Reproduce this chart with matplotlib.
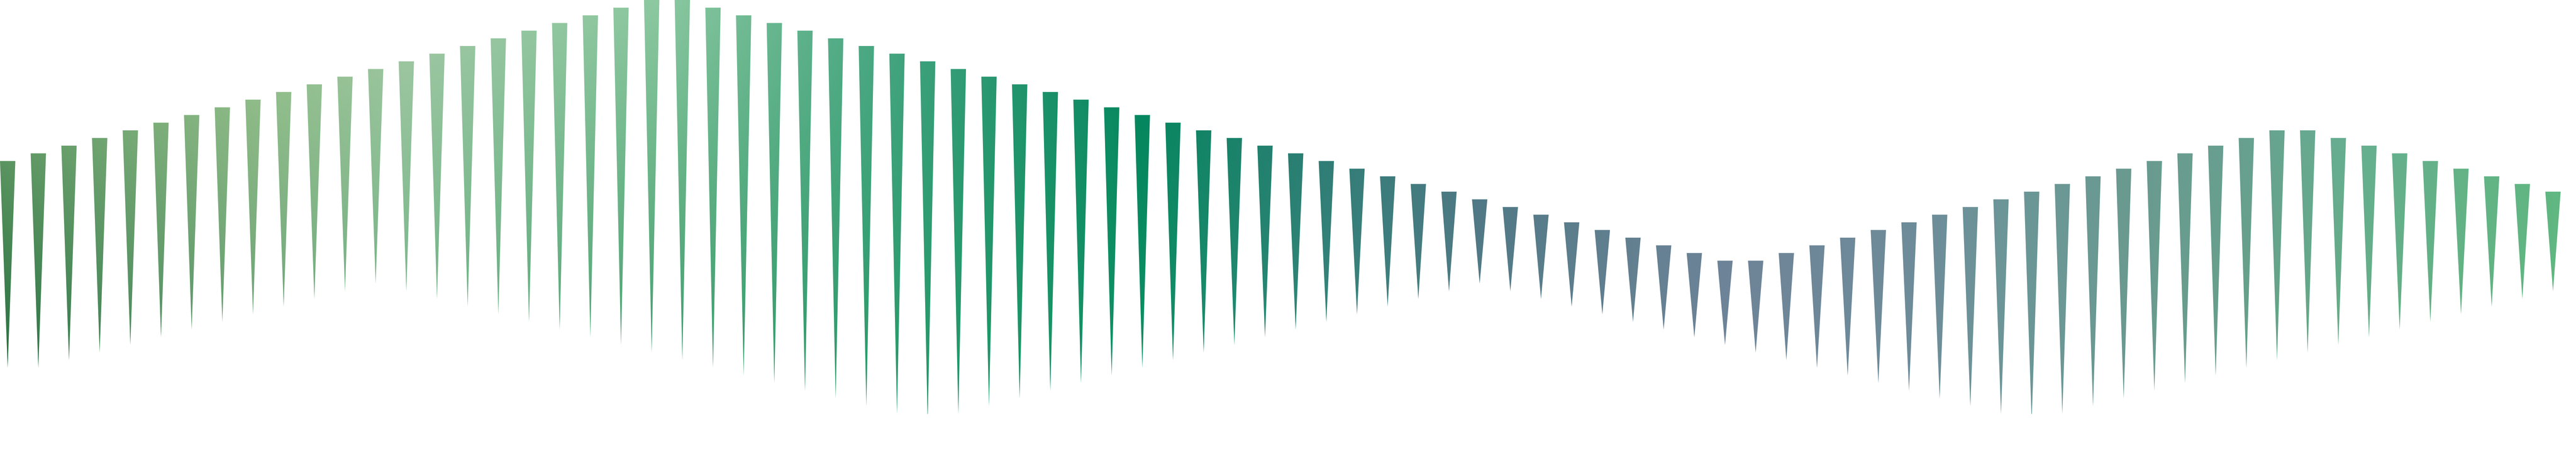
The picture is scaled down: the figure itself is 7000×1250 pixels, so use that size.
import numpy as np
import matplotlib; matplotlib.use("Agg"); import matplotlib.pyplot as plt
from matplotlib.path import Path
from matplotlib.patches import PathPatch
from matplotlib.colors import to_rgb

# one downward spike per slot: flat top edge at `tops`, point at `tips`
tops = [39, 40, 41, 42, 43, 44, 45, 46, 47, 48, 49, 50, 51, 52, 53, 54, 55, 56, 57, 58, 59, 60,
        60, 59, 58, 57, 56, 55, 54, 53, 52, 51, 50, 49, 48, 47, 46, 45, 44, 43, 42, 41, 40, 39,
        38, 37, 36, 35, 34, 33, 32, 31, 30, 29, 28, 27, 26,
        26, 27, 28, 29, 30, 31, 32, 33, 34, 35, 36, 37, 38, 39, 40, 41, 42, 43,
        43, 42, 41, 40, 39, 38, 37, 36, 35]
tips = [12, 12, 13, 14, 15, 16, 17, 18, 19, 20, 21, 22, 23,
        22, 21, 20, 19, 18, 17, 16, 15, 14, 13, 12, 11, 10, 9, 8, 7, 6,
        5,
        6, 7, 8, 9, 10, 11, 12, 13, 14, 15, 16, 17, 18, 19, 20, 21, 22, 23,
        22, 21, 20, 19, 18, 17, 16, 15, 14, 13, 12, 11, 10, 9, 8, 7, 6,
        5,
        6, 7, 8, 9, 10, 11, 12, 13, 14, 15, 16, 17, 18, 19, 20, 21, 22]

# fill gradient: colour stops along x (fraction of width), upper row / lower row
STOP_X = [0.0, 0.0986, 0.157, 0.257, 0.343, 0.443, 0.514, 0.571, 0.671, 0.743, 0.779, 0.829, 0.871, 0.914, 1.0]
STOP_HI = ["#70a46e", "#93bf8a", "#9ac59f", "#7dc096", "#44a57f", "#04855d", "#2e7a74", "#4d7884",
           "#6e8498", "#6e8c9a", "#6c9698", "#6a9a90", "#68a092", "#68b094", "#60b880"]
STOP_LO = ["#266f3f", "#679e73", "#70b385", "#419e6e", "#2b9b6b", "#0d9064", "#35877b", "#527a86",
           "#6e8498", "#6e8c9a", "#6c9698", "#6a9a90", "#66a088", "#64ac84", "#60b880"]
Y_HI, Y_LO = 50.4, 12.0          # data heights where the two colour rows apply
HW = 0.25                        # half width of a spike, in slots

n = len(tops); x = np.arange(n)
XLIM = (-HW, n - HW); YLIM = (6, 60)

fig = plt.figure(figsize=(70, 12.5), dpi=100)
ax = fig.add_axes([0, 0.1, 1, 0.9]); ax.set_xlim(*XLIM); ax.set_ylim(*YLIM); ax.axis("off")

# gradient raster, clipped to the spikes below
W, H = 1400, 540
u = np.linspace(0, 1, W)
hi = np.stack([np.interp(u, STOP_X, [to_rgb(c)[k] for c in STOP_HI]) for k in range(3)], axis=-1)
lo = np.stack([np.interp(u, STOP_X, [to_rgb(c)[k] for c in STOP_LO]) for k in range(3)], axis=-1)
yv = np.linspace(YLIM[1], YLIM[0], H)
t = ((Y_HI - yv) / (Y_HI - Y_LO))[:, None, None]
img = np.clip(hi[None] + t * (lo - hi)[None], 0, 1)
im = ax.imshow(img, extent=(*XLIM, *YLIM), aspect="auto", origin="upper", interpolation="bilinear")

verts, codes = [], []
for xi, tp, tb in zip(x, tops, tips):
    verts += [(xi - HW, tp), (xi + HW, tp), (xi, tb), (xi - HW, tp)]
    codes += [Path.MOVETO, Path.LINETO, Path.LINETO, Path.CLOSEPOLY]
clip = PathPatch(Path(verts, codes), facecolor="none", edgecolor="none", transform=ax.transData)
ax.add_patch(clip); im.set_clip_path(clip)

fig.savefig("out.png", dpi=100, facecolor="white")
